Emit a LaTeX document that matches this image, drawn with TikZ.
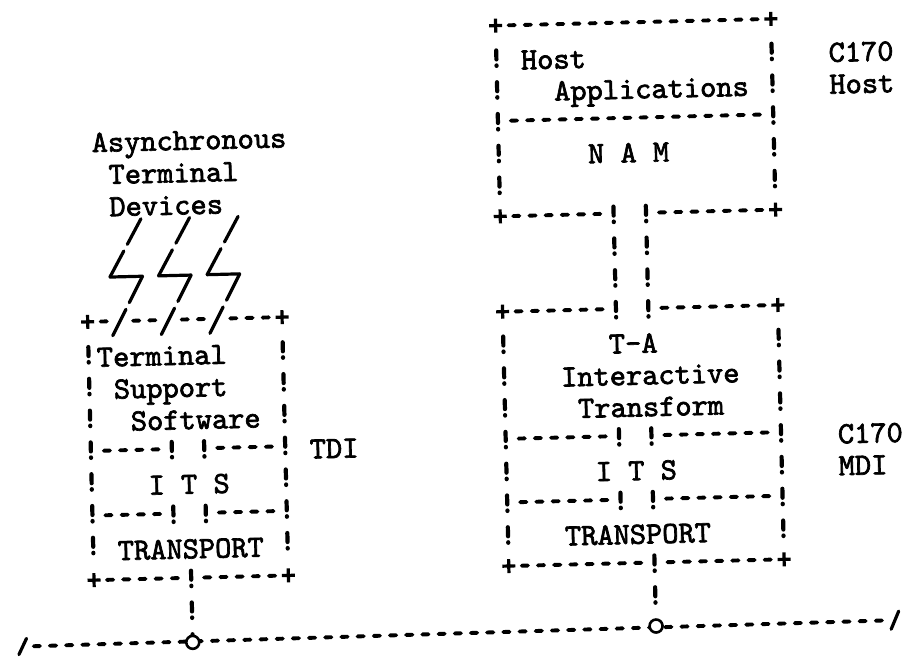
\documentclass[tikz,border=0pt]{standalone}
\usepackage{fontspec}
\newfontfamily\typer{lmmono10-regular}[Extension=.otf, FakeBold=2.2]
\usepackage{tikz}

\tikzset{
  typed/.style={font=\typer\fontsize{30.9}{36}\selectfont, inner sep=0pt, anchor=base west},
  hyph/.style={line width=3.9pt, line cap=round, dash pattern=on 6.2pt off 10pt},
  bang/.style={line width=4.2pt, line cap=round, dash pattern=on 9pt off 6pt on 0.5pt off 16.3pt},
  bolt/.style={line width=3.2pt, line cap=round, dash pattern=on 29.5pt off 7.5pt},
  tap/.style={circle, draw, line width=2.6pt, fill=white, minimum size=13pt, inner sep=0pt},
  corner/.pic={\draw[line width=3.2pt] (-6.5pt,0) -- (6.5pt,0) (0,-7pt) -- (0,7pt);},
  grid/.style={x=16.2pt, y=-31.8pt}
}

\begin{document}
\begin{tikzpicture}[x=1pt, y=-1pt]
\useasboundingbox (0,0) rectangle (902,659);
\begin{scope}[rotate around={1.4:(450,330)}, transform shape]

% terminal side
\begin{scope}[shift={(88,313)}, grid, y=-32.3pt]
\node[typed] (adev1) at (0.5,-5.25) {Asynchronous};
\node[typed] (adev2) at (1.5,-4.25) {Terminal};
\node[typed] (adev3) at (1.5,-3.25) {Devices};
\foreach \c in {2,5,8} {
  \draw[bolt] (\c-0.56,-1.37) -- (\c+1.44,-3.15);
  \draw[line width=3.2pt, line cap=round] (\c-0.56,-1.37) -- (\c+1.45,-1.37);
  \draw[bolt] (\c+1.45,-1.37) -- (\c-0.52,0.49);
}
\foreach \p in {(0,0),(12,0),(0,8),(12,8)} \pic at \p {corner};
\foreach \a/\b/\r in {1/1/0, 3/4/0, 6/7/0, 9/11/0, 1/4/4, 8/11/4, 1/4/6, 8/11/6, 1/5/8, 7/11/8}
  \draw[hyph] (\a-0.2,\r) -- (\b+0.2,\r);
\foreach \c/\a/\b in {0/1/7, 12/1/7, 5/4/4, 7/4/4, 5/6/6, 7/6/6}
  \draw[bang] (\c,\a-0.22) -- (\c,\b+0.28);
\node[typed] (tss1) at (0.5,1.4) {Terminal};
\node[typed] (tss2) at (1.5,2.4) {Support};
\node[typed] (tss3) at (2.5,3.4) {Software};
\node[typed] (lits) at (3.5,5.4) {I T S};
\node[typed] (ltransp) at (1.5,7.4) {TRANSPORT};
\node[typed] (tdi) at (13.5,4.4) {TDI};
\coordinate (busW) at (-4.5,10);
\coordinate (ldrop) at (6,7.78);
\coordinate (lpos) at (6,10);
\end{scope}

% host side
\begin{scope}[shift={(503,313)}, grid]
\foreach \p in {(0,-9),(17,-9),(0,-3),(17,-3),(0,0),(17,0),(0,8),(17,8)} \pic at \p {corner};
\foreach \a/\b/\r in {1/16/-9, 1/16/-6, 1/6/-3, 10/16/-3, 1/6/0, 10/16/0,
                      1/6/4, 10/16/4, 1/6/6, 10/16/6, 1/8/8, 10/16/8}
  \draw[hyph] (\a-0.2,\r) -- (\b+0.2,\r);
\foreach \c/\a/\b in {0/-8/-4, 17/-8/-4, 0/1/7, 17/1/7, 7/4/4, 9/4/4, 7/6/6, 9/6/6}
  \draw[bang] (\c,\a-0.22) -- (\c,\b+0.28);
\coordinate (nam1) at (7,-3.22);
\coordinate (nam2) at (9,-3.22);
\coordinate (tia1) at (7,0.28);
\coordinate (tia2) at (9,0.28);
\draw[bang] (nam1) -- (tia1);
\draw[bang] (nam2) -- (tia2);
\node[typed] (happ1) at (1.5,-7.6) {Host};
\node[typed] (happ2) at (3.5,-6.6) {Applications};
\node[typed] (hnam) at (5.5,-4.6) {N A M};
\node[typed] (hcpu1) at (20.5,-7.6) {C170};
\node[typed] (hcpu2) at (20.5,-6.6) {Host};
\node[typed] (tia) at (6.5,1.4) {T-A};
\node[typed] (tinter) at (3.5,2.4) {Interactive};
\node[typed] (ttrans) at (4.5,3.4) {Transform};
\node[typed] (rits) at (5.5,5.4) {I T S};
\node[typed] (rtransp) at (3.5,7.4) {TRANSPORT};
\node[typed] (mdi1) at (20.5,4.4) {C170};
\node[typed] (mdi2) at (20.5,5.4) {MDI};
\coordinate (busE) at (23.75,10);
\coordinate (rdrop) at (9,7.78);
\coordinate (rpos) at (9,10);
\end{scope}

% bus
\draw[hyph] ([xshift=11pt]busW) -- ([xshift=-11pt]busE);
\draw[line width=3.2pt, line cap=round] ([shift={(-4pt,-8pt)}]busW) -- ([shift={(4pt,8pt)}]busW);
\draw[line width=3.2pt, line cap=round] ([shift={(-4pt,-9pt)}]busE) -- ([shift={(4pt,9pt)}]busE);
\node[tap] (ltap) at (lpos) {};
\node[tap] (rtap) at (rpos) {};
\draw[bang] (ldrop) -- (ltap);
\draw[bang] (rdrop) -- (rtap);

\end{scope}
\end{tikzpicture}
\end{document}
